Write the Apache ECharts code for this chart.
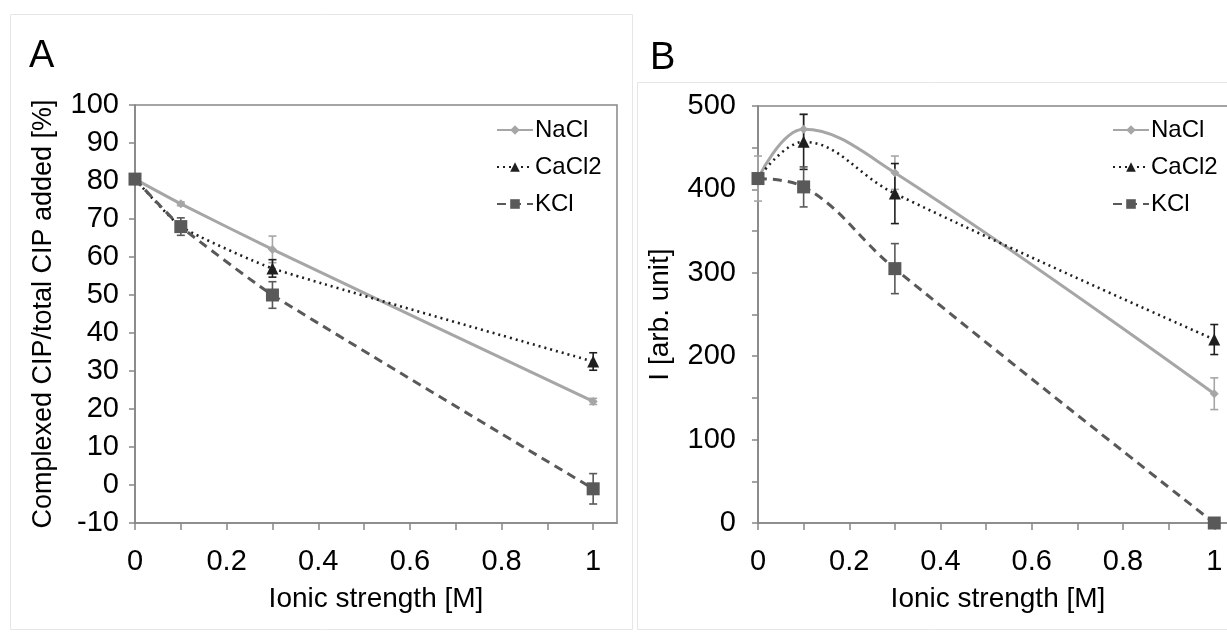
<!DOCTYPE html>
<html>
<head>
<meta charset="utf-8">
<script src="https://cdn.jsdelivr.net/npm/echarts@6/dist/echarts.min.js"></script>
<style>
  html, body { margin: 0; padding: 0; background: #fff; }
  #chart { width: 1227px; height: 637px; }
</style>
</head>
<body>
<div id="chart"></div>
<script>
// x values (ionic strength, M)
var ionicStrength = [0, 0.1, 0.3, 1];

// panel A: complexed CIP / total CIP added [%]
var complexedNaCl = [80.5, 74, 62, 22];
var complexedCaCl2 = [80.5, 68, 57, 32.5];
var complexedKCl = [80.5, 68, 50, -1];
var complexedNaClErr = [0.5, 0.5, 3.5, 0.8];
var complexedCaCl2Err = [0.5, 1, 2.3, 2.3];
var complexedKClErr = [0.5, 2.3, 3.5, 4];

// panel B: I [arb. unit]
var intensityNaCl = [413, 472, 420, 155];
var intensityCaCl2 = [413, 457, 395, 220];
var intensityKCl = [413, 403, 305, 0];
var intensityNaClErr = [27, 18, 20, 19];
var intensityCaCl2Err = [0, 33, 36, 18];
var intensityKClErr = [0, 24, 30, 0];

// ticks
var xMinorTicks = [0, 0.1, 0.2, 0.3, 0.4, 0.5, 0.6, 0.7, 0.8, 0.9, 1];
var xTickLabels = [0, 0.2, 0.4, 0.6, 0.8, 1];
var yTicksA = [-10, 0, 10, 20, 30, 40, 50, 60, 70, 80, 90, 100];
var yTicksB = [0, 50, 100, 150, 200, 250, 300, 350, 400, 450, 500];
var yLabelsB = [0, 100, 200, 300, 400, 500];

var salts = ['NaCl', 'CaCl2', 'KCl'];

var FONT = '"Liberation Sans", Arial, sans-serif';
var AXIS_COLOR = '#868686';
var colNaCl = '#a6a6a6', colCaCl2 = '#1f1f1f', colKCl = '#595959';

function pts(vals) {
  return ionicStrength.map(function (x, i) { return [x, vals[i]]; });
}
function errs(vals, e) {
  return ionicStrength.map(function (x, i) { return [x, vals[i] - e[i], vals[i] + e[i]]; });
}

function errorBarItem(params, api) {
  var x = api.value(0);
  var top = api.coord([x, api.value(2)]);
  var bot = api.coord([x, api.value(1)]);
  var w = 4;
  var style = { stroke: api.visual('color'), lineWidth: 1.6 };
  return {
    type: 'group',
    children: [
      { type: 'line', shape: { x1: top[0], y1: top[1], x2: bot[0], y2: bot[1] }, style: style },
      { type: 'line', shape: { x1: top[0] - w, y1: top[1], x2: top[0] + w, y2: top[1] }, style: style },
      { type: 'line', shape: { x1: bot[0] - w, y1: bot[1], x2: bot[0] + w, y2: bot[1] }, style: style }
    ]
  };
}

function xAxis(gridIndex) {
  return {
    type: 'value', gridIndex: gridIndex, min: 0, max: 1.052,
    name: 'Ionic strength [M]', nameLocation: 'middle', nameGap: 62,
    nameTextStyle: { fontFamily: FONT, fontSize: 28, color: '#000' },
    axisLine: { show: true, onZero: false, lineStyle: { color: AXIS_COLOR, width: 1.6 } },
    axisTick: { show: true, length: 7, customValues: xMinorTicks, lineStyle: { color: AXIS_COLOR, width: 1.5 } },
    axisLabel: { customValues: xTickLabels, margin: 24, fontFamily: FONT, fontSize: 29, color: '#000' },
    splitLine: { show: false }
  };
}

function lineSeries(name, data, color, idx, smooth) {
  var s = {
    name: name, type: 'line', xAxisIndex: idx, yAxisIndex: idx,
    data: data, smooth: smooth, color: color, z: 4,
    lineStyle: { color: color, width: 3 },
    itemStyle: { color: color },
    emphasis: { disabled: true },
    animation: false
  };
  if (name === 'NaCl') { s.symbol = 'diamond'; s.symbolSize = 9; }
  if (name === 'CaCl2') { s.symbol = 'triangle'; s.symbolSize = 12; s.lineStyle.type = [2, 4]; s.lineStyle.width = 2.6; }
  if (name === 'KCl') { s.symbol = 'rect'; s.symbolSize = 13; s.lineStyle.type = [9, 6]; }
  return s;
}

function errSeries(name, data, color, idx) {
  return {
    name: name + ' err', type: 'custom', xAxisIndex: idx, yAxisIndex: idx,
    data: data, renderItem: errorBarItem, encode: { x: 0, y: [1, 2] },
    itemStyle: { color: color }, z: 3, animation: false, silent: true
  };
}

function legend(left) {
  return {
    orient: 'vertical', left: left, top: 113, data: salts,
    itemWidth: 36, itemHeight: 12, itemGap: 13,
    textStyle: { fontFamily: FONT, fontSize: 24, color: '#000', padding: [0, 0, 0, -3] },
    selectedMode: false
  };
}

var chart = echarts.init(document.getElementById('chart'));
chart.setOption({
  backgroundColor: '#fff',
  animation: false,
  title: [
    { text: 'A', left: 24, top: 33, textStyle: { fontFamily: FONT, fontSize: 38, fontWeight: 'normal', color: '#000' } },
    { text: 'B', left: 645, top: 35, textStyle: { fontFamily: FONT, fontSize: 38, fontWeight: 'normal', color: '#000' } }
  ],
  graphic: [
    { type: 'rect', shape: { x: 10.5, y: 14.5, width: 622, height: 615 }, style: { fill: null, stroke: '#e6e6e6', lineWidth: 1 }, z: -10 },
    { type: 'rect', shape: { x: 637.5, y: 82.5, width: 600, height: 547 }, style: { fill: null, stroke: '#e6e6e6', lineWidth: 1 }, z: -10 }
  ],
  legend: [legend(491), legend(1107)],
  grid: [
    { left: 135, top: 105, width: 482, height: 418, outerBoundsMode: 'none', show: true, borderColor: AXIS_COLOR, borderWidth: 1.5, backgroundColor: 'transparent' },
    { left: 758, top: 106, width: 480, height: 417, outerBoundsMode: 'none', show: true, borderColor: AXIS_COLOR, borderWidth: 1.5, backgroundColor: 'transparent' }
  ],
  xAxis: [xAxis(0), xAxis(1)],
  yAxis: [
    {
      type: 'value', gridIndex: 0, min: -10, max: 100, interval: 10,
      name: 'Complexed CIP/total CIP added [%]', nameLocation: 'middle', nameGap: 78,
      nameTextStyle: { fontFamily: FONT, fontSize: 27, color: '#000' },
      axisLine: { show: true, onZero: false, lineStyle: { color: AXIS_COLOR, width: 1.6 } },
      axisTick: { show: true, length: 6, customValues: yTicksA, lineStyle: { color: AXIS_COLOR, width: 1.5 } },
      axisLabel: { customValues: yTicksA, margin: 16, fontFamily: FONT, fontSize: 29, color: '#000' },
      splitLine: { show: false }
    },
    {
      type: 'value', gridIndex: 1, min: 0, max: 500, interval: 100,
      name: 'I [arb. unit]', nameLocation: 'middle', nameGap: 84,
      nameTextStyle: { fontFamily: FONT, fontSize: 28, color: '#000' },
      axisLine: { show: true, onZero: false, lineStyle: { color: AXIS_COLOR, width: 1.6 } },
      axisTick: { show: true, length: 6, customValues: yTicksB, lineStyle: { color: AXIS_COLOR, width: 1.5 } },
      axisLabel: { customValues: yLabelsB, margin: 22, fontFamily: FONT, fontSize: 29, color: '#000' },
      splitLine: { show: false }
    }
  ],
  series: [
    errSeries('NaCl', errs(complexedNaCl, complexedNaClErr), colNaCl, 0),
    errSeries('CaCl2', errs(complexedCaCl2, complexedCaCl2Err), colCaCl2, 0),
    errSeries('KCl', errs(complexedKCl, complexedKClErr), colKCl, 0),
    lineSeries('NaCl', pts(complexedNaCl), colNaCl, 0, 0.15),
    lineSeries('CaCl2', pts(complexedCaCl2), colCaCl2, 0, 0.15),
    lineSeries('KCl', pts(complexedKCl), colKCl, 0, 0.15),

    errSeries('NaCl', errs(intensityNaCl, intensityNaClErr), colNaCl, 1),
    errSeries('CaCl2', errs(intensityCaCl2, intensityCaCl2Err), colCaCl2, 1),
    errSeries('KCl', errs(intensityKCl, intensityKClErr), colKCl, 1),
    lineSeries('NaCl', pts(intensityNaCl), colNaCl, 1, 0.4),
    lineSeries('CaCl2', pts(intensityCaCl2), colCaCl2, 1, 0.4),
    lineSeries('KCl', pts(intensityKCl), colKCl, 1, 0.4)
  ]
});
</script>
</body>
</html>
